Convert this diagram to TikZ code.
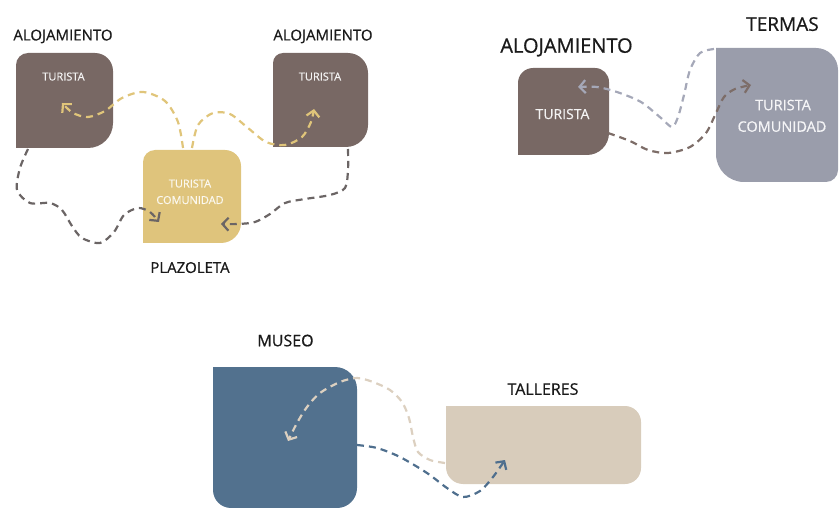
\documentclass[tikz,border=0pt]{standalone}
\usepackage{fontspec}
\setmainfont{Open Sans}
\usetikzlibrary{arrows.meta}
\definecolor{brownbox}{HTML}{786864}
\definecolor{goldbox}{HTML}{DFC47C}
\definecolor{termbox}{HTML}{9A9DAB}
\definecolor{museobox}{HTML}{52718E}
\definecolor{tallbox}{HTML}{D8CCBB}
\definecolor{goldln}{HTML}{E0C57A}
\definecolor{greyln}{HTML}{6B6565}
\definecolor{lightln}{HTML}{A5A8B8}
\definecolor{brownln}{HTML}{7D6D68}
\definecolor{beigeln}{HTML}{DCD0C0}
\definecolor{blueln}{HTML}{4F6F8E}
\definecolor{lbltxt}{HTML}{1A1A1A}
\newfontfamily\lblfont{Open Sans}[FakeBold=0.7]
\newfontfamily\infont{Open Sans}[FakeBold=0.5]
\begin{document}
\begin{tikzpicture}[x=1pt,y=1pt,
  lbl/.style={inner sep=0pt,text depth=0pt,text=lbltxt,font=\lblfont\fontsize{#1}{#1}\selectfont},
  intxt/.style={inner sep=0pt,text depth=0pt,text=white!92!brownbox,font=\infont\fontsize{#1}{#1}\selectfont},
  conn/.style={line width=2.2pt,dash pattern=on 7pt off 5pt,draw=#1,
    -{Straight Barb[length=6pt,width=13pt]}},
]
\useasboundingbox (0,0) rectangle (839,-508);

% boxes
\fill[brownbox] (16,-65) arc[start angle=180,end angle=90,radius=12pt] -- (95,-53)
  arc[start angle=90,end angle=0,radius=18pt] -- (113,-123)
  arc[start angle=0,end angle=-90,radius=25pt] -- (16,-148) -- cycle;
\fill[brownbox] (273,-63) arc[start angle=180,end angle=90,radius=10pt] -- (348,-53)
  arc[start angle=90,end angle=0,radius=20pt] -- (368,-125)
  arc[start angle=0,end angle=-90,radius=22pt] -- (273,-147) -- cycle;
\fill[goldbox] (143,-162) arc[start angle=180,end angle=90,radius=12pt] -- (225,-150)
  arc[start angle=90,end angle=0,radius=16pt] -- (241,-223)
  arc[start angle=0,end angle=-90,radius=20pt] -- (143,-243) -- cycle;
\fill[brownbox] (518,-83) arc[start angle=180,end angle=90,radius=15pt] -- (595,-68)
  arc[start angle=90,end angle=0,radius=14pt] -- (609,-133)
  arc[start angle=0,end angle=-90,radius=22pt] -- (518,-155) -- cycle;
\fill[termbox] (716,-48) -- (816,-48) arc[start angle=90,end angle=0,radius=22pt] -- (838,-170)
  arc[start angle=0,end angle=-90,radius=12pt] -- (744,-182)
  arc[start angle=270,end angle=180,radius=28pt] -- cycle;
\fill[museobox] (213,-367) -- (335,-367) arc[start angle=90,end angle=0,radius=22pt] -- (357,-488)
  arc[start angle=0,end angle=-90,radius=20pt] -- (231,-508)
  arc[start angle=270,end angle=180,radius=18pt] -- cycle;
\fill[tallbox] (446,-406) -- (625,-406) arc[start angle=90,end angle=0,radius=16pt] -- (641,-468)
  arc[start angle=0,end angle=-90,radius=16pt] -- (463,-484)
  arc[start angle=270,end angle=180,radius=17pt] -- cycle;

% labels
\node[lbl=15] (l1) at (63,-35) {ALOJAMIENTO};
\node[lbl=15] (l2) at (323,-35) {ALOJAMIENTO};
\node[lbl=15] (l3) at (190,-267.5) {PLAZOLETA};
\node[lbl=20] (l4) at (566.5,-45.5) {ALOJAMIENTO};
\node[lbl=19] (l5) at (782.5,-24) {TERMAS};
\node[lbl=16] (l6) at (285.5,-340.5) {MUSEO};
\node[lbl=16] (l7) at (543,-389) {TALLERES};

% texts in boxes
\node[intxt=11] (t1) at (63.5,-76.5) {TURISTA};
\node[intxt=11] (t2) at (320,-76.5) {TURISTA};
\node[intxt=11,text=white!88!goldbox] (t3) at (190,-183.5) {TURISTA};
\node[intxt=11,text=white!88!goldbox] (t4) at (190,-200) {COMUNIDAD};
\node[intxt=14] (t5) at (562.5,-114) {TURISTA};
\node[intxt=14.5,text=white!90!termbox] (t6) at (783,-105) {TURISTA};
\node[intxt=14.5,text=white!90!termbox] (t7) at (782,-126.5) {COMUNIDAD};

% connector ends
\coordinate (c1s) at (183,-148); \coordinate (c1e) at (62,-103);
\coordinate (c2s) at (192,-148); \coordinate (c2e) at (314,-109);
\coordinate (c3s) at (28,-149);  \coordinate (c3e) at (159,-222);
\coordinate (c4s) at (348,-149); \coordinate (c4e) at (221,-224);
\coordinate (c5s) at (714,-49);  \coordinate (c5e) at (578,-87);
\coordinate (c6s) at (608,-133); \coordinate (c6e) at (751,-85);
\coordinate (c7s) at (445,-463); \coordinate (c7e) at (288,-441);
\coordinate (c8s) at (357,-445); \coordinate (c8e) at (505,-460);

% connectors
\draw[conn=goldln] plot[smooth] coordinates {(c1s) (178,-122) (165,-101) (143,-92) (122,-98) (105,-111) (88,-117) (73,-113) (c1e)};
\draw[conn=goldln] plot[smooth] coordinates {(c2s) (198,-125) (213,-113) (230,-114) (248,-128) (266,-142) (285,-145) (302,-137) (311,-122) (c2e)};
\draw[conn=greyln] plot[smooth] coordinates {(c3s) (20,-168) (17,-190) (30,-203) (50,-203) (62,-210) (72,-226) (82,-238) (100,-243) (114,-232) (124,-215) (138,-208) (150,-212) (c3e)};
\draw[conn=greyln] plot[smooth] coordinates {(c4s) (348,-170) (345,-188) (330,-195) (305,-199) (285,-203) (270,-214) (255,-222) (238,-224) (c4e)};
\draw[conn=lightln] plot[smooth] coordinates {(c5s) (700,-53) (690,-70) (684,-95) (678,-117) (672,-127) (661,-118) (641,-102) (617,-92) (597,-87) (c5e)};
\draw[conn=brownln] plot[smooth] coordinates {(c6s) (630,-141) (648,-150) (668,-153) (690,-147) (706,-133) (716,-113) (724,-97) (735,-89) (c6e)};
\draw[conn=beigeln] plot[smooth] coordinates {(c7s) (430,-460) (418,-452) (413,-437) (409,-418) (402,-402) (390,-390) (373,-382) (357,-378) (340,-382) (320,-393) (307,-407) (297,-423) (c7e)};
\draw[conn=blueln] plot[smooth] coordinates {(c8s) (377,-448) (400,-457) (427,-473) (447,-488) (463,-497) (480,-491) (493,-477) (c8e)};
\end{tikzpicture}
\end{document}
